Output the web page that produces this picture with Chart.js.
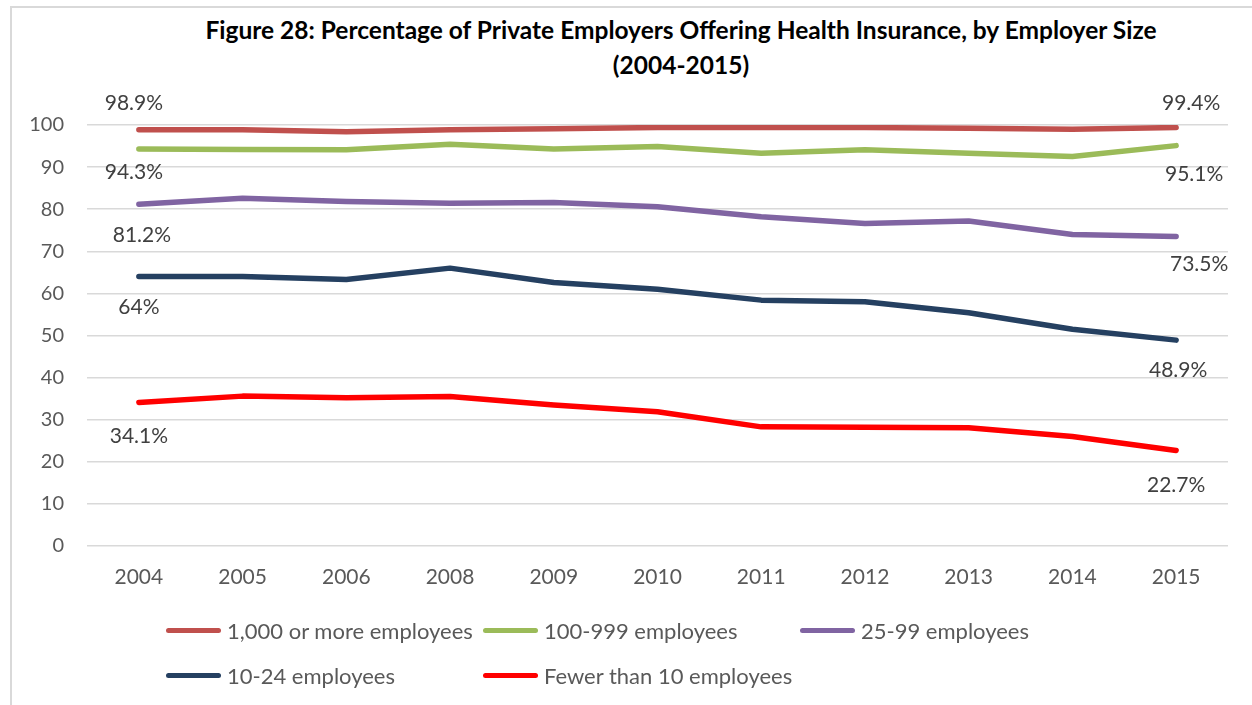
<!DOCTYPE html>
<html>
<head>
<meta charset="utf-8">
<script src="https://cdn.jsdelivr.net/npm/chart.js@4.4.1/dist/chart.umd.min.js"></script>
<style>
  html, body { margin: 0; padding: 0; background: #fff; }
  body { width: 1252px; height: 705px; position: relative; overflow: hidden; font-family: Lato, "Noto Sans", sans-serif; }
  #frame { position: absolute; left: 10px; top: 6px; width: 1300px; height: 760px; border-left: 2px solid #d9d9d9; border-top: 2px solid #d9d9d9; }
  #title { position: absolute; left: 131px; top: 12px; width: 1100px; text-align: center; font-weight: bold; font-size: 24.5px; line-height: 35px; color: #000; }
  #wrap { position: absolute; left: 0; top: 0; width: 1252px; height: 705px; }
  #legend { position: absolute; left: 166px; top: 613px; display: grid; grid-template-columns: 317px 317px 317px; row-gap: 11px; }
  .item { display: flex; align-items: center; height: 34px; font-size: 22px; color: #595959; }
  .swatch { width: 55px; height: 5px; border-radius: 3px; margin-right: 6px; flex: none; }
</style>
</head>
<body>
<div id="frame"></div>
<div id="title">Figure 28: Percentage of Private Employers Offering Health Insurance, by Employer Size<br>(2004-2015)</div>
<div id="wrap"><canvas id="chart" width="1252" height="705"></canvas></div>
<div id="legend"></div>
<script>
// categories and series
const years = ['2004', '2005', '2006', '2008', '2009', '2010', '2011', '2012', '2013', '2014', '2015'];
const seriesNames = ['1,000 or more employees', '100-999 employees', '25-99 employees', '10-24 employees', 'Fewer than 10 employees'];
const large = [98.9, 98.9, 98.4, 98.9, 99.1, 99.4, 99.4, 99.4, 99.2, 99.0, 99.4];
const midSize = [94.3, 94.2, 94.1, 95.4, 94.3, 94.9, 93.3, 94.1, 93.3, 92.5, 95.1];
const small = [81.2, 82.6, 81.8, 81.4, 81.6, 80.6, 78.2, 76.6, 77.2, 74.0, 73.5];
const verySmall = [64.0, 64.0, 63.3, 66.0, 62.6, 61.0, 58.4, 58.0, 55.4, 51.5, 48.9];
const tiny = [34.1, 35.6, 35.2, 35.5, 33.5, 31.9, 28.3, 28.2, 28.1, 26.0, 22.7];
const yTicks = [0, 10, 20, 30, 40, 50, 60, 70, 80, 90, 100];

const colors = ['#c0504d', '#9bbb59', '#8064a2', '#254061', '#ff0000'];
// label text for first / last point
const endLabels = [['98.9%', '99.4%'], ['94.3%', '95.1%'], ['81.2%', '73.5%'], ['64%', '48.9%'], ['34.1%', '22.7%']];
// where the end labels sit relative to their point (dx, dy)
const labelOffsets = [
    [[-5, -26], [15, -24]],
    [[-5, 23], [18, 29]],
    [[3, 31], [23, 28]],
    [[0, 31], [2, 30]],
    [[0, 34], [0, 35]]
];

const allValues = [large, midSize, small, verySmall, tiny];

const endLabelPlugin = {
    id: 'endLabels',
    afterDatasetsDraw(chart) {
        const ctx = chart.ctx;
        ctx.save();
        ctx.font = '21px Lato, "Noto Sans", sans-serif';
        ctx.fillStyle = '#404040';
        ctx.textAlign = 'center';
        ctx.textBaseline = 'middle';
        chart.data.datasets.forEach(function(ds, i) {
            const pts = chart.getDatasetMeta(i).data;
            const ends = [pts[0], pts[pts.length - 1]];
            ends.forEach(function(p, j) {
                const off = labelOffsets[i][j];
                ctx.fillText(endLabels[i][j], p.x + off[0], p.y + off[1]);
            });
        });
        ctx.restore();
    }
};

var ctx = document.getElementById('chart').getContext('2d');
var chart = new Chart(ctx, {
    type: 'line',
    data: {
        labels: years,
        datasets: allValues.map(function(vals, i) {
            return {
                label: seriesNames[i],
                data: vals,
                borderColor: colors[i],
                backgroundColor: colors[i],
                borderWidth: 5.5,
                borderCapStyle: 'round',
                borderJoinStyle: 'round',
                pointRadius: 0,
                tension: 0
            };
        })
    },
    options: {
        responsive: false,
        animation: false,
        layout: { padding: { left: 10, right: 24, top: 125, bottom: 109 } },
        plugins: {
            legend: { display: false },
            title: { display: false },
            tooltip: { enabled: false }
        },
        scales: {
            x: {
                offset: true,
                grid: { display: false, drawTicks: false },
                border: { display: false },
                ticks: { color: '#595959', padding: 19, font: { family: 'Lato', size: 21 } },
                afterFit: function(s) { s.height = 50; }
            },
            y: {
                min: 0,
                max: 100,
                afterBuildTicks: function(s) { s.ticks = yTicks.map(function(v) { return { value: v }; }); },
                grid: { color: '#d9d9d9', lineWidth: 1.5, drawTicks: false },
                border: { display: false },
                ticks: { color: '#595959', padding: 23, font: { family: 'Lato', size: 20 } },
                afterFit: function(s) { s.width = 77; }
            }
        }
    },
    plugins: [endLabelPlugin]
});

// legend laid out in columns like the original
var legendEl = document.getElementById('legend');
seriesNames.forEach(function(name, i) {
    var item = document.createElement('div');
    item.className = 'item';
    item.innerHTML = '<span class="swatch" style="background:' + colors[i] + '"></span>' + name;
    legendEl.appendChild(item);
});
</script>
</body>
</html>
